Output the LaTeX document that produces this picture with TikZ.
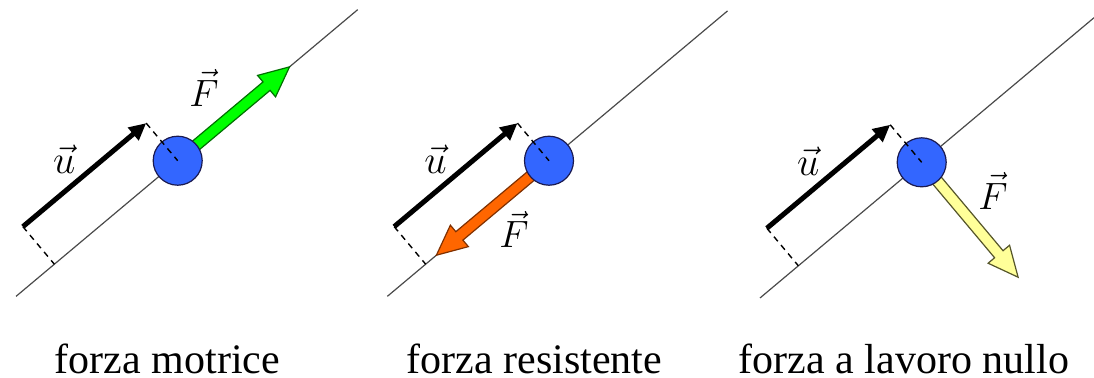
\RequirePackage{fix-cm}
\documentclass[tikz,border=0pt]{standalone}
\usepackage{fontspec}
\setmainfont{Liberation Serif}
\usetikzlibrary{arrows.meta}
\definecolor{ballfill}{HTML}{3366FF}
\definecolor{balldraw}{HTML}{1A1A50}
\definecolor{trackgray}{HTML}{4A4A4A}
\definecolor{greenF}{HTML}{00FF00}
\definecolor{greenD}{HTML}{007000}
\definecolor{orangeF}{HTML}{FF6600}
\definecolor{orangeD}{HTML}{803000}
\definecolor{yellowF}{HTML}{FFFF99}
\definecolor{yellowD}{HTML}{55552A}
\tikzset{
  track/.style={draw=trackgray, line width=0.6pt},
  ball/.style={circle, minimum size=24.5pt, inner sep=0pt, fill=ballfill, draw=balldraw, line width=0.6pt},
  uvec/.style={line width=2.5pt, -{Triangle[length=8.5pt,width=8pt]}},
  proj/.style={line width=0.7pt, dash pattern=on 3pt off 2.5pt},
  flbl/.style={font=\fontsize{19}{22}\selectfont, inner sep=0pt},
  ulbl/.style={font=\fontsize{20}{24}\selectfont, inner sep=0pt},
  caption/.style={font=\fontsize{21}{24}\selectfont, anchor=base, inner sep=0pt},
}
% #1 fill, #2 outline, #3 start coordinate, #4 angle (in panel frame), #5 length (px)
\newcommand\BlockArrow[5]{%
  \begin{scope}[shift={(#3)}, rotate=#4]
    \draw[fill=#1, draw=#2, line width=0.6pt, line join=miter]
      (0,-5.5) -- (#5-30,-5.5) -- (#5-30,-14) -- (#5,0) -- (#5-30,14) -- (#5-30,5.5) -- (0,5.5) -- cycle;
  \end{scope}}
\begin{document}
\begin{tikzpicture}[x=0.5pt, y=-0.5pt]
\useasboundingbox (0,0) rectangle (1094,377);

% ---------- panel 1: forza motrice ----------
\begin{scope}[shift={(177.7,160.7)}, rotate=40]
  \coordinate (c1) at (0,0);
  \coordinate (l1a) at (-211,0);
  \coordinate (l1b) at (235,0);
  \draw[track] (l1a) -- (l1b);
  \BlockArrow{greenF}{greenD}{c1}{0}{146}
  \node[ball] (m1) at (c1) {};
  \coordinate (u1t) at (-161,-49);
  \coordinate (u1h) at (0,-49);
  \coordinate (q1) at (-161,0);
  \draw[uvec] (u1t) -- (u1h);
  \draw[proj] (u1t) -- (q1);
  \draw[proj] (u1h) -- (m1.center);
  \node[ulbl] (lu1) at (-86,-74) {$\vec{u}$};
  \node[flbl] (lf1) at (67,-39) {$\vec{F}$};
\end{scope}

% ---------- panel 2: forza resistente ----------
\begin{scope}[shift={(549,160.7)}, rotate=40]
  \coordinate (c2) at (0,0);
  \coordinate (l2a) at (-211,0);
  \coordinate (l2b) at (233,0);
  \draw[track] (l2a) -- (l2b);
  \BlockArrow{orangeF}{orangeD}{c2}{180}{147}
  \node[ball] (m2) at (c2) {};
  \coordinate (u2t) at (-161,-49);
  \coordinate (u2h) at (0,-49);
  \coordinate (q2) at (-161,0);
  \draw[uvec] (u2t) -- (u2h);
  \draw[proj] (u2t) -- (q2);
  \draw[proj] (u2h) -- (m2.center);
  \node[ulbl] (lu2) at (-86,-74) {$\vec{u}$};
  \node[flbl] (lf2) at (-71,30) {$\vec{F}$};
\end{scope}

% ---------- panel 3: forza a lavoro nullo ----------
\begin{scope}[shift={(921.7,162.3)}, rotate=40]
  \coordinate (c3) at (0,0);
  \coordinate (l3a) at (-211,0);
  \coordinate (l3b) at (225,0);
  \draw[track] (l3a) -- (l3b);
  \BlockArrow{yellowF}{yellowD}{c3}{-90}{150}
  \node[ball] (m3) at (c3) {};
  \coordinate (u3t) at (-161,-49);
  \coordinate (u3h) at (0,-49);
  \coordinate (q3) at (-161,0);
  \draw[uvec] (u3t) -- (u3h);
  \draw[proj] (u3t) -- (q3);
  \draw[proj] (u3h) -- (m3.center);
  \node[ulbl] (lu3) at (-86,-74) {$\vec{u}$};
  \node[flbl] (lf3) at (36,68) {$\vec{F}$};
\end{scope}

% ---------- captions ----------
\node[caption] (t1) at (167.5,373) {forza motrice};
\node[caption] (t2) at (534.5,373) {forza resistente};
\node[caption] (t3) at (904,373) {forza a lavoro nullo};
\end{tikzpicture}
\end{document}
